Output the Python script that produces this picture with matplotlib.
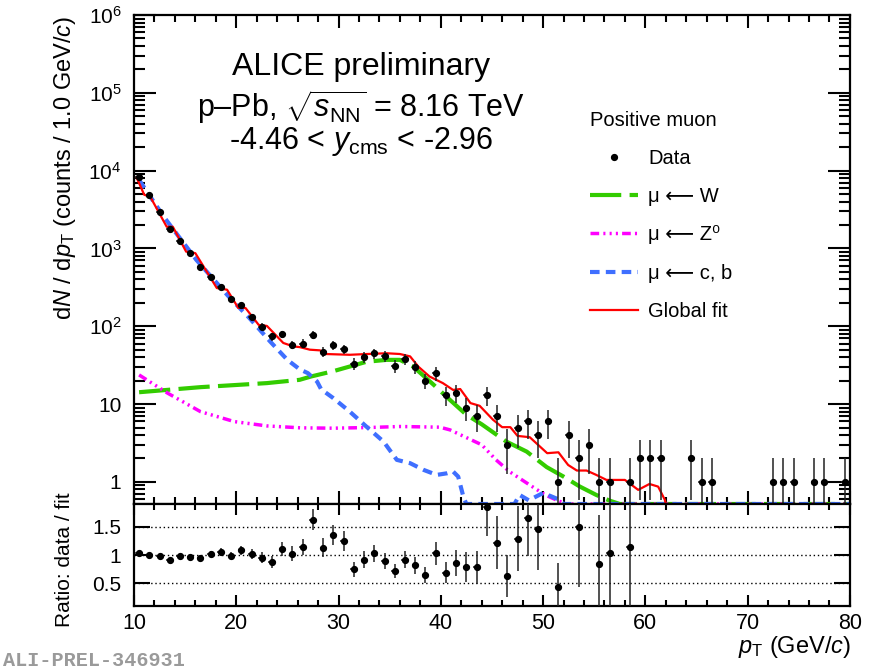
import numpy as np
import matplotlib
matplotlib.use("Agg")
import matplotlib.pyplot as plt
from matplotlib.ticker import FixedLocator, FixedFormatter, MultipleLocator, LogLocator, NullFormatter, NullLocator
from matplotlib.lines import Line2D

plt.rcParams['font.family'] = ['Liberation Sans', 'DejaVu Sans']
plt.rcParams['mathtext.fontset'] = 'custom'
plt.rcParams['mathtext.rm'] = 'Liberation Sans'
plt.rcParams['mathtext.it'] = 'Liberation Sans:italic'
plt.rcParams['mathtext.bf'] = 'Liberation Sans:bold'

# Muon counts in 1 GeV/c bins, centres 10.5 ... 79.5
pt_bins = np.arange(10.5, 80.0, 1.0)
counts = [8400, 4900, 2930, 1790, 1260, 870, 575, 428, 318, 225,   # 10-20
          185, 133, 99, 74, 79, 58, 60, 78, 47, 57,                # 20-30
          51, 33, 40, 45, 41, 31, 38, 30, 20, 25,                  # 30-40
          13, 14, 9, 7, 13, 7, 3, 5, 6, 4,                         # 40-50
          6, 1, 4, 2, 3, 1, 1, 0, 1, 2,                            # 50-60
          2, 2, 0, 0, 2, 1, 1, 0, 0, 0,                            # 60-70
          0, 0, 1, 1, 1, 0, 1, 1, 0, 1]                            # 70-80

# Template / fit curves
w_pt = [10.5, 16.5, 23.0, 26.2, 27.3, 29.5, 32.75, 34.7, 36.0, 37.3, 39.3, 40.9,
        42.5, 44.0, 46.4, 48.4, 50.35, 52.0, 53.6, 55.2, 56.5, 57.5, 80.0]
w_val = [14.2, 16.5, 18.6, 20.5, 22.6, 26.5, 35.0, 37.0, 37.0, 30.3, 17.7, 11.3,
         7.3, 5.5, 3.3, 2.45, 1.55, 1.17, 0.87, 0.68, 0.575, 0.5, 0.0]

z_pt = [10.5, 13.3, 16.5, 19.8, 23.0, 26.3, 29.5, 33.0, 36.0, 39.9, 40.9, 44.0,
        45.4, 46.7, 48.6, 50.2, 51.5, 52.3, 80.0]
z_val = [23.7, 13.8, 8.0, 5.96, 5.24, 4.95, 4.9, 5.0, 5.15, 5.05, 4.66, 3.0,
         1.92, 1.36, 0.93, 0.68, 0.57, 0.5, 0.0]

hf_pt = [10.5, 12.9, 16.1, 19.4, 21.3, 23.3, 25.0, 26.2, 27.0, 27.9, 28.3, 29.5,
         31.1, 32.75, 34.4, 35.7, 37.0, 38.3, 39.6, 40.6, 41.2, 41.7, 42.2, 42.5,
         47.2, 47.7, 48.6, 50.0, 51.6, 52.0, 80.0]
hf_val = [7600, 2570, 713, 230, 127, 64, 37, 28, 25, 19.5, 15.5, 11.9,
          8.0, 5.1, 3.3, 1.92, 1.74, 1.43, 1.23, 1.29, 1.36, 1.17, 0.65, 0.4,
          0.4, 0.68, 0.58, 0.72, 0.59, 0.4, 0.0]

fit_pt = [10.25, 11.0, 11.6, 13.2, 13.8, 15.1, 16.0, 18.1, 19.1, 20.2, 20.9, 22.2,
          23.0, 24.6, 25.6, 26.2, 27.2, 28.2, 28.7, 31.1, 32.8, 34.7, 36.0, 37.0,
          37.8, 38.9, 40.2, 41.2, 41.9, 42.9, 43.8, 45.1, 46.0, 46.8, 47.5, 48.7,
          49.7, 50.4, 51.5, 52.45, 53.3, 54.25, 55.2, 56.2, 58.0, 59.3, 60.4,
          61.25, 61.9, 62.2]
fit_val = [8200, 4900, 4600, 1900, 1900, 910, 870, 310, 295, 172, 172, 104,
           101, 61, 55, 54, 50, 49, 44, 43, 44, 45, 44, 41,
           30.3, 22.6, 18.6, 15.2, 15.6, 10.3, 9.5, 6.3, 5.05, 5.05, 3.9, 3.75,
           2.84, 2.34, 2.4, 1.65, 1.4, 1.4, 1.23, 1.06, 1.06, 0.79, 0.94,
           0.87, 0.59, 0.4]

# data / fit ratio
ratio_pt = list(np.arange(10.5, 50.0, 1.0)) + [51.5, 53.5, 55.5, 56.5, 58.5]
ratio_val = [1.03, 1.00, 0.98, 0.92, 0.98, 0.97, 0.94, 1.02, 1.06, 0.99,
             1.08, 1.01, 0.95, 0.88, 1.11, 1.02, 1.14, 1.62, 1.13, 1.35,
             1.25, 0.75, 0.92, 1.03, 0.89, 0.72, 0.92, 0.82, 0.65, 1.03,
             0.69, 0.86, 0.79, 0.78, 1.85, 1.22, 0.63, 1.29, 1.66, 1.46,
             0.43, 1.50, 0.85, 1.03, 1.15]

ytick_vals = [1, 10, 1e2, 1e3, 1e4, 1e5, 1e6]
ytick_text = ['1', '10', '$10^{2}$', '$10^{3}$', '$10^{4}$', '$10^{5}$', '$10^{6}$']
ratio_ticks = [0.5, 1.0, 1.5]
ratio_text = ['0.5', '1', '1.5']

legend_labels = ['Data', 'μ ⟵ W', 'μ ⟵ Z⁰', 'μ ⟵ c, b', 'Global fit']

YMIN, YMAX = 0.52, 1e6

GREEN = '#33cc00'
MAGENTA = '#ff00ff'
BLUE = '#3f6fff'
RED = '#ff0000'

W_DASH = (7.5, 2.0)
Z_DASH = (2.5, 1.2, 0.6, 1.2, 0.6, 1.2, 0.6, 1.2)
HF_DASH = (2.3, 1.5)

fig = plt.figure(figsize=(8.71, 6.72), dpi=100)
ax = fig.add_axes([0.1538, 0.25, 0.822, 0.7277])
axr = fig.add_axes([0.1538, 0.0982, 0.822, 0.1518], sharex=ax)

# --- spectrum panel ---
ax.set_yscale('log')
ax.set_xlim(10, 80)
ax.set_ylim(YMIN, YMAX)

def draw_curve(xs, ys, **kw):
    # curves below the frame are drawn along its lower edge
    ys = np.maximum(np.asarray(ys, dtype=float), YMIN)
    ax.plot(xs, ys, **kw)

draw_curve(w_pt, w_val, color=GREEN, lw=3, dashes=W_DASH, dash_capstyle='butt')
draw_curve(z_pt, z_val, color=MAGENTA, lw=2.5, dashes=Z_DASH, dash_capstyle='butt')
draw_curve(hf_pt, hf_val, color=BLUE, lw=3, dashes=HF_DASH, dash_capstyle='butt')
ax.plot(fit_pt, fit_val, color=RED, lw=1.6)

cnt = np.array(counts, dtype=float)
ok = cnt > 0
ax.errorbar(pt_bins[ok], cnt[ok], yerr=np.sqrt(cnt[ok]), xerr=0.35, fmt='o',
            ms=4.2, color='black', ecolor='#222222', elinewidth=1.1, capsize=0, zorder=5)

ax.yaxis.set_major_locator(FixedLocator(ytick_vals))
ax.yaxis.set_major_formatter(FixedFormatter(ytick_text))
ax.yaxis.set_minor_locator(LogLocator(base=10, subs=np.arange(2, 10), numticks=100))
ax.yaxis.set_minor_formatter(NullFormatter())
ax.xaxis.set_major_locator(MultipleLocator(10))
ax.xaxis.set_minor_locator(MultipleLocator(2))
ax.tick_params(axis='both', which='both', direction='in', top=True, right=True,
               labelbottom=False, width=1.5)
ax.tick_params(axis='x', which='major', length=9.5)
ax.tick_params(axis='x', which='minor', length=5)
ax.tick_params(axis='y', which='major', length=16, labelsize=15, pad=9)
ax.tick_params(axis='y', which='minor', length=8)
for s in ax.spines.values():
    s.set_linewidth(1.6)

ax.text(0.317, 0.893, 'ALICE preliminary', transform=ax.transAxes,
        ha='center', va='center', fontsize=23)
ax.text(0.317, 0.812, r'p–Pb, $\sqrt{s_{\mathrm{NN}}}$ = 8.16 TeV', transform=ax.transAxes,
        ha='center', va='center', fontsize=22)
ax.text(0.317, 0.742, r'-4.46 < $y_{\mathrm{cms}}$ < -2.96', transform=ax.transAxes,
        ha='center', va='center', fontsize=22)

handles = [
    Line2D([], [], ls='none', marker='o', ms=4.2, color='black'),
    Line2D([], [], color=GREEN, lw=3, dashes=W_DASH),
    Line2D([], [], color=MAGENTA, lw=2.5, dashes=Z_DASH),
    Line2D([], [], color=BLUE, lw=3, dashes=HF_DASH),
    Line2D([], [], color=RED, lw=1.6),
]
leg = ax.legend(handles, legend_labels, title='Positive muon', loc='upper left',
                bbox_to_anchor=(580 / 871, 1 - 101 / 672), bbox_transform=fig.transFigure,
                frameon=False, fontsize=14.5, title_fontsize=14.5, alignment='left',
                handlelength=2.4, handletextpad=0.5, labelspacing=0.95, borderpad=0)

# --- ratio panel ---
rpt = np.array(ratio_pt)
rv = np.array(ratio_val)
rerr = rv / np.sqrt(cnt[(rpt - 10.5).astype(int)])
axr.errorbar(rpt, rv, yerr=rerr, xerr=0.35, fmt='o', ms=4.2, color='black',
             ecolor='#222222', elinewidth=1.1, capsize=0, zorder=5)
for yl in ratio_ticks:
    axr.axhline(yl, color='black', lw=1, ls=(0, (1, 2)), zorder=1)
axr.set_ylim(0.1, 1.9)
axr.set_xlim(10, 80)
axr.yaxis.set_major_locator(FixedLocator(ratio_ticks))
axr.yaxis.set_major_formatter(FixedFormatter(ratio_text))
axr.yaxis.set_minor_locator(NullLocator())
axr.tick_params(axis='both', which='both', direction='in', top=True, right=True, width=1.5)
axr.tick_params(axis='x', which='major', length=8, labelsize=15.5, pad=5)
axr.tick_params(axis='x', which='minor', length=4.5)
axr.tick_params(axis='y', which='major', length=11.5, labelsize=15, pad=9)
for s in axr.spines.values():
    s.set_linewidth(1.6)

fig.text(65 / 871, 1 - 16 / 672, r'd$N$ / d$p_{\mathrm{T}}$ (counts / 1.0 GeV/$c$)',
         rotation=90, ha='center', va='top', fontsize=17)
fig.text(65 / 871, 1 - 560 / 672, 'Ratio: data / fit', rotation=90,
         ha='center', va='center', fontsize=15)
fig.text(851 / 871, 1 - 647 / 672, r'$p_{\mathrm{T}}$ (GeV/$c$)', ha='right',
         va='center', fontsize=17)
fig.text(3 / 871, 1 - 661 / 672, 'ALI-PREL-346931', ha='left', va='center',
         fontsize=14.5, family='Liberation Mono', weight='bold', color='#9a9a9a')

fig.savefig('out.png', dpi=100)
